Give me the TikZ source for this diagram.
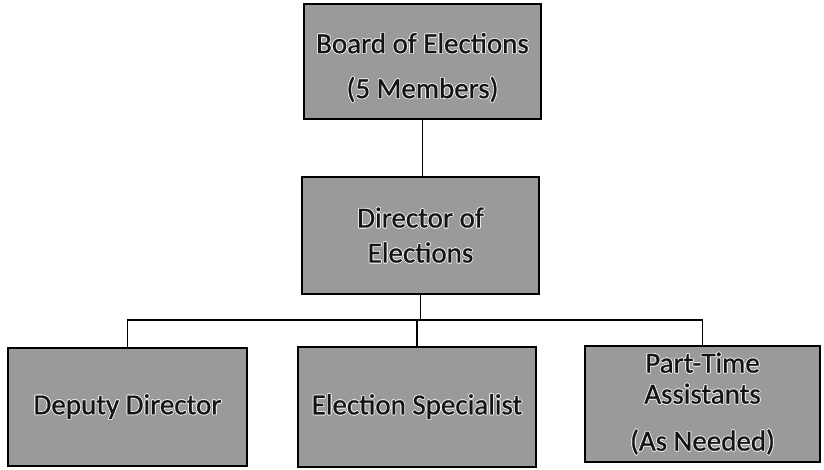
\documentclass[tikz,border=0pt]{standalone}
\usepackage{fontspec}
\setmainfont{Carlito}[FakeBold=0.7]
\usepackage{contour}
\contourlength{0.8pt}
\definecolor{boxgray}{HTML}{9A9A9A}
\definecolor{inkc}{HTML}{141414}
\definecolor{haloc}{HTML}{E8E8E8}
\newcommand{\halo}[1]{\textcolor{inkc}{\contour{haloc}{#1}}}
\begin{document}
\begin{tikzpicture}[x=1pt,y=-1pt]
  \tikzset{
    orgbox/.style={draw=black, line width=1.4pt, fill=boxgray, inner sep=0pt,
      align=center, font=\fontsize{29}{35}\selectfont},
    link/.style={draw=black, line width=1.3pt}
  }
  \useasboundingbox (0,0) rectangle (824,470);

  % boxes
  \node[orgbox, minimum width=237pt, minimum height=115pt] (board) at (422.5,61.5)
    {\rule{0pt}{10pt}\\[-12pt]\halo{Board of Elections}\\[10pt]\halo{(5 Members)}};
  \node[orgbox, minimum width=237pt, minimum height=117pt] (dir) at (420.5,235.5)
    {\halo{Director of}\\\halo{Elections}};
  \node[orgbox, minimum width=239pt, minimum height=118pt] (dep) at (127.5,407)
    {\halo{Deputy Director}};
  \node[orgbox, minimum width=238pt, minimum height=120pt] (spec) at (417,407)
    {\halo{Election Specialist}};
  \node[orgbox, minimum width=235pt, minimum height=116pt,
        font=\fontsize{29}{31}\selectfont] (asst) at (702.5,404)
    {\halo{Part-Time}\\\halo{Assistants}\\[16pt]\halo{(As Needed)}};

  % connectors
  \coordinate (bus) at (420,320);
  \draw[link] (board.south) -- (board.south |- dir.north);
  \draw[link] (dir.south) -- (dir.south |- bus);
  \draw[link] (dep.north) |- (bus) -| (asst.north);
  \draw[link] (spec.north) -- (spec.north |- bus);
\end{tikzpicture}
\end{document}
